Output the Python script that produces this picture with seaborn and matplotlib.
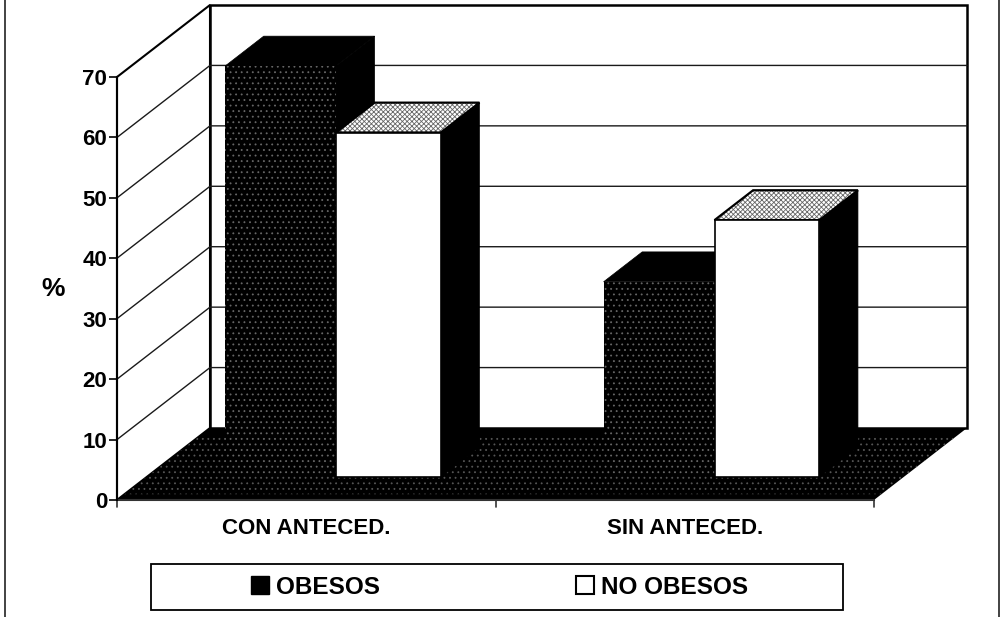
import matplotlib
matplotlib.use("Agg")
import matplotlib.pyplot as plt
from matplotlib.lines import Line2D
from matplotlib.patches import Polygon, Rectangle
import pandas as pd
import seaborn as sns

# Chart data
categories = ["CON ANTECED.", "SIN ANTECED."]
series_names = ["OBESOS", "NO OBESOS"]
obesos = [68, 32.3]
no_obesos = [57, 42.5]
y_ticks = [0, 10, 20, 30, 40, 50, 60, 70]

df = pd.DataFrame({
    "grupo": categories * 2,
    "serie": [series_names[0]] * 2 + [series_names[1]] * 2,
    "valor": obesos + no_obesos,
})

sns.set_theme(style="white")
plt.rcParams["font.family"] = ["Liberation Sans", "DejaVu Sans"]
plt.rcParams["hatch.linewidth"] = 0.6

W, H = 1003, 617
fig = plt.figure(figsize=(W / 100, H / 100), dpi=100)
ax = fig.add_axes([117 / W, 1 - 500 / H, 757 / W, 423 / H])

sns.barplot(data=df, x="grupo", y="valor", hue="serie", order=categories,
            hue_order=series_names, palette=["black", "white"], width=0.57,
            gap=0, saturation=1, legend=False, ax=ax)
ax.set_xlim(-0.5, 1.5)
ax.set_ylim(0, 70)

# Depth of the box, in data units of the front plane
DX = 93 / 378.5
DY = 72 / 6.043
BAR_FRONT = 0.32
BAR_BACK = 0.735
BAR_NUDGE = -0.008
x0, x1 = ax.get_xlim()


def proj(x, y, z):
    return (x + z * DX, y + z * DY)


def face(points, zorder, **kw):
    kw.setdefault("edgecolor", "black")
    p = Polygon([proj(*pt) for pt in points], closed=True, clip_on=False,
                zorder=zorder, **kw)
    ax.add_patch(p)
    return p


# Back wall, side wall, grid
face([(x0, 0, 1), (x1, 0, 1), (x1, 70, 1), (x0, 70, 1)], 0.5, facecolor="white", linewidth=1.8)
face([(x0, 0, 0), (x0, 0, 1), (x0, 70, 1), (x0, 70, 0)], 0.5, facecolor="white", linewidth=1.5)
for t in y_ticks[1:-1]:
    xs, ys = zip(proj(x0, t, 0), proj(x0, t, 1), proj(x1, t, 1))
    ax.plot(xs, ys, color="#1a1a1a", linewidth=1, clip_on=False, zorder=0.7)

# Floor
face([(x0, 0, 0), (x1, 0, 0), (x1, 0, 1), (x0, 0, 1)], 0.8, facecolor="black", linewidth=0)
face([(x0, 0, 0.08), (x1, 0, 0.08), (x1, 0, 0.9), (x0, 0, 0.9)], 0.9,
     facecolor="none", edgecolor="#555555", hatch="...", linewidth=0)

# Bars: move the seaborn bars back into the box, then add top and side
bars = sorted([b for b in ax.patches[:4] if b.get_height() > 0], key=lambda b: b.get_x())
for i, bar in enumerate(bars):
    dark = i in (0, 2)
    left = bar.get_x() + BAR_NUDGE + (0 if dark else 0.008)
    width = bar.get_width() + (0.008 if dark else -0.008)
    right = left + width
    h = bar.get_height()
    base = 2 + i
    top = [(left, h, BAR_FRONT), (right, h, BAR_FRONT), (right, h, BAR_BACK), (left, h, BAR_BACK)]
    # side
    face([(right, 0, BAR_FRONT), (right, 0, BAR_BACK), (right, h, BAR_BACK), (right, h, BAR_FRONT)],
         base, facecolor="black", linewidth=0.5)
    # top
    if dark:
        face(top, base, facecolor="black", linewidth=0.5)
    else:
        face(top, base, facecolor="white", edgecolor="#666666", hatch="xxxxxxx", linewidth=0)
        face(top, base + 0.1, fill=False, linewidth=1.6)
    # front
    bar.set_x(left + BAR_FRONT * DX)
    bar.set_width(width)
    bar.set_y(BAR_FRONT * DY)
    bar.set_clip_on(False)
    bar.set_zorder(base + 0.5)
    bar.set_linewidth(0)
    if dark:
        bar.set_edgecolor("#666666")
        bar.set_hatch("...")
    else:
        bar.set_edgecolor("black")
        bar.set_linewidth(1.2)

# Axes
sns.despine(ax=ax, top=True, right=True)
ax.spines["left"].set_linewidth(1.5)
ax.spines["bottom"].set_linewidth(1.5)
ax.spines["left"].set_color("black")
ax.spines["bottom"].set_color("#333333")
ax.spines["left"].set_zorder(10)
ax.set_yticks(y_ticks)
ax.set_yticklabels([str(t) for t in y_ticks], fontsize=16, fontweight="bold", color="black")
ax.tick_params(axis="y", left=True, length=6, width=1.2, color="black", pad=1)
ax.set_xticks([0, 1])
ax.set_xticklabels(categories, fontsize=16, fontweight="bold", color="black")
ax.tick_params(axis="x", bottom=False, pad=7)
for xt in [x0, 0.5, x1]:
    ax.plot([xt, xt], [0, -1.2], color="#333333", linewidth=1.2, clip_on=False)
ax.set_xlabel("")
ax.set_ylabel("%", fontsize=19, fontweight="bold", rotation=0, color="black")
ax.yaxis.set_label_coords((53 - 117) / 757, (500 - 301) / 423)

# Legend box and entries
fig.add_artist(Rectangle((151 / W, 1 - 610 / H), 692 / W, 46 / H, transform=fig.transFigure,
                         facecolor="white", edgecolor="black", linewidth=1.3))
handles = [
    Line2D([], [], linestyle="none", marker="s", markersize=13, markerfacecolor="black",
           markeredgecolor="black", label=series_names[0]),
    Line2D([], [], linestyle="none", marker="s", markersize=13, markerfacecolor="white",
           markeredgecolor="black", markeredgewidth=1.5, label=series_names[1]),
]
leg = fig.legend(handles=handles, loc="center", bbox_to_anchor=(498 / W, 1 - 587 / H), ncol=2,
                 frameon=False, columnspacing=7.95, handletextpad=0.15, handlelength=1.0,
                 prop={"weight": "bold", "size": 17.5})
leg.set_zorder(5)
for text in leg.get_texts():
    text.set_color("black")

# Page borders from the scan
fig.add_artist(Line2D([5.5 / W, 5.5 / W], [0, 1], color="#222222", linewidth=1.2))
fig.add_artist(Line2D([999.5 / W, 999.5 / W], [0, 1], color="#222222", linewidth=1.2))

fig.savefig("out.png", dpi=100)
